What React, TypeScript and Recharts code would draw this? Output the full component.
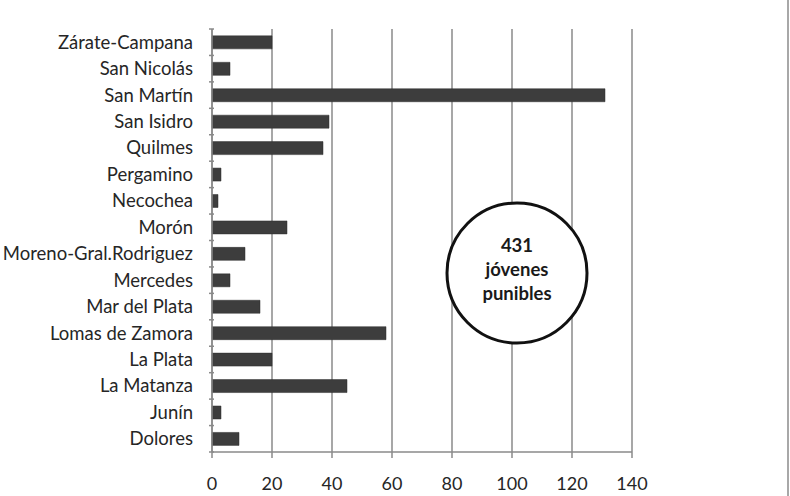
import React from 'react';
import { BarChart, Bar, XAxis, YAxis, CartesianGrid } from 'recharts';

// Departamentos judiciales (top to bottom as drawn)
const districts = [
  'Zárate-Campana',
  'San Nicolás',
  'San Martín',
  'San Isidro',
  'Quilmes',
  'Pergamino',
  'Necochea',
  'Morón',
  'Moreno-Gral.Rodriguez',
  'Mercedes',
  'Mar del Plata',
  'Lomas de Zamora',
  'La Plata',
  'La Matanza',
  'Junín',
  'Dolores',
];

const youths = [20, 6, 131, 39, 37, 3, 2, 25, 11, 6, 16, 58, 20, 45, 3, 9];

const xTicks = [0, 20, 40, 60, 80, 100, 120, 140];

const calloutLines = ['431', 'jóvenes', 'punibles'];

const data = districts.map((name, i) => ({ name, value: youths[i] }));

const FONT = 'Lato, "Open Sans", sans-serif';
const W = 790;
const H = 496;
const TOP = 29;
const BOTTOM = 452;
const BAND = (BOTTOM - TOP) / districts.length;

// Category tick: label plus a short tick mark on each band boundary
const DistrictTick = (props: any) => {
  const { x, y, payload, index } = props;
  const axisX = x + 10;
  const last = index === districts.length - 1;
  return (
    <g>
      <line x1={axisX - 5} x2={axisX} y1={y - BAND / 2} y2={y - BAND / 2} stroke="#8a8a8a" strokeWidth={1.5} />
      {last && (
        <line x1={axisX - 5} x2={axisX} y1={y + BAND / 2} y2={y + BAND / 2} stroke="#8a8a8a" strokeWidth={1.5} />
      )}
      <text x={x - 11} y={y} dy="0.35em" textAnchor="end" fontSize={18.5} fill="#262626" fontFamily={FONT}>
        {payload.value}
      </text>
    </g>
  );
};

export default function App() {
  return (
    <div style={{ position: 'absolute', left: 0, top: 0, width: W, height: H, background: '#fff' }}>
      <BarChart
        width={W}
        height={H}
        data={data}
        layout="vertical"
        margin={{ top: TOP, right: 158, bottom: 14, left: 12 }}
        barCategoryGap="26%"
      >
        <CartesianGrid horizontal={false} stroke="#8a8a8a" strokeWidth={1.5} />
        <XAxis
          type="number"
          domain={[0, 140]}
          ticks={xTicks}
          height={30}
          axisLine={{ stroke: '#8a8a8a', strokeWidth: 1.5 }}
          tickLine={{ stroke: '#8a8a8a', strokeWidth: 1.5 }}
          tickSize={6}
          tickMargin={19}
          tick={{ fontSize: 18, fill: '#262626', fontFamily: FONT }}
        />
        <YAxis
          type="category"
          dataKey="name"
          width={200}
          axisLine={{ stroke: '#8a8a8a', strokeWidth: 1.5 }}
          tickLine={false}
          interval={0}
          tick={<DistrictTick />}
        />
        <Bar dataKey="value" fill="#3d3d3d" stroke="#2e2e2e" strokeWidth={0.5} isAnimationActive={false} />
      </BarChart>
      <svg
        width={W}
        height={H}
        style={{ position: 'absolute', left: 0, top: 0, pointerEvents: 'none' }}
      >
        <circle cx={517} cy={273} r={70} fill="#fff" stroke="#111" strokeWidth={3} />
        {calloutLines.map((t, i) => (
          <text
            key={t}
            x={517}
            y={246 + i * 24}
            dy="0.35em"
            textAnchor="middle"
            fontSize={18.5}
            fontWeight="bold"
            fill="#1a1a1a"
            fontFamily={FONT}
          >
            {t}
          </text>
        ))}
        <line x1={788} x2={788} y1={0} y2={H} stroke="#a8a8a8" strokeWidth={2} />
      </svg>
    </div>
  );
}
